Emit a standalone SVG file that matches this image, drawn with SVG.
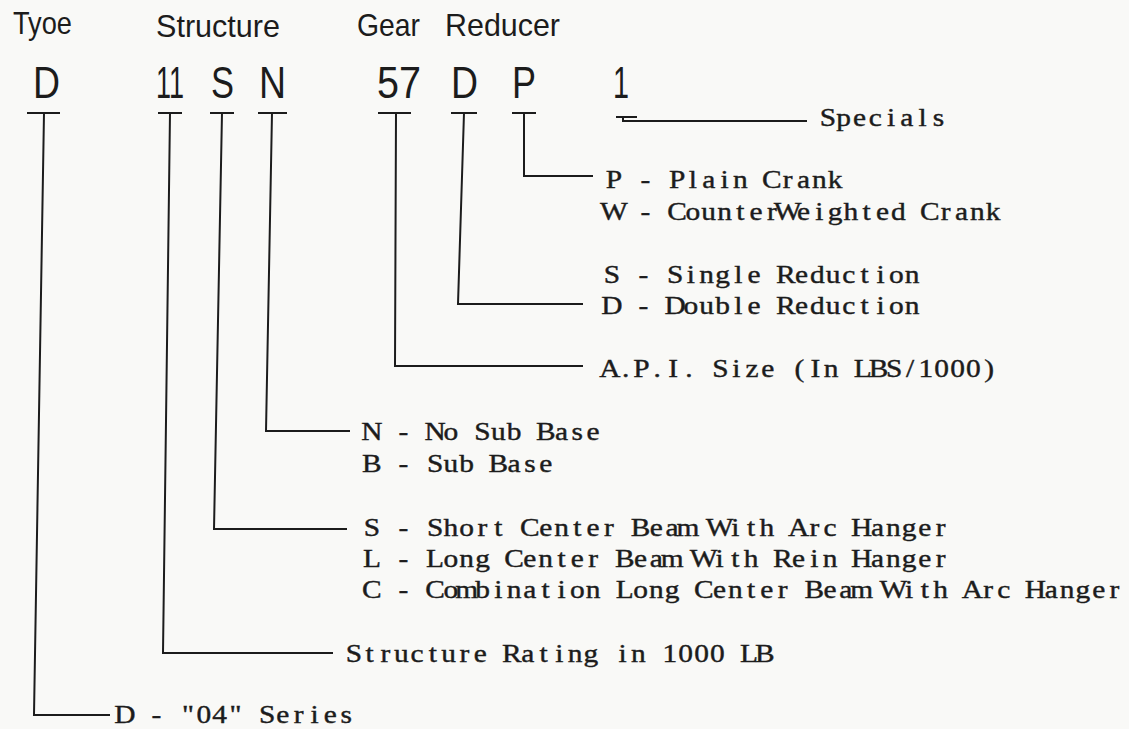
<svg xmlns="http://www.w3.org/2000/svg" width="1129" height="729" viewBox="0 0 1129 729">
<style>
.hd{font-family:"Liberation Sans",Arial,sans-serif;font-size:32px;fill:#1c1c1c}
.big{font-family:"Liberation Sans",Arial,sans-serif;font-size:44px;fill:#1c1c1c}
.lb{font-family:"Liberation Serif","Times New Roman",serif;font-size:24.5px;fill:#1c1c1c;stroke:#1c1c1c;stroke-width:0.4;text-anchor:middle}
.bar{stroke:#1c1c1c;stroke-width:2;fill:none}
.cn{stroke:#1c1c1c;stroke-width:2;fill:none;stroke-linejoin:miter}
</style>
<rect width="1129" height="729" fill="#f9f9f7"/>
<g id="headings">
<text class="hd" x="13" y="34" textLength="59" lengthAdjust="spacingAndGlyphs">Tyoe</text>
<text class="hd" x="156" y="37" textLength="124" lengthAdjust="spacingAndGlyphs">Structure</text>
<text class="hd" x="357" y="36" textLength="63" lengthAdjust="spacingAndGlyphs">Gear</text>
<text class="hd" x="445" y="36" textLength="115" lengthAdjust="spacingAndGlyphs">Reducer</text>
</g>
<g id="node-type-D">
<text class="big" x="33" y="98" textLength="27" lengthAdjust="spacingAndGlyphs">D</text>
<line class="bar" x1="27" y1="113" x2="60" y2="113"/>
</g>
<g id="node-11">
<text class="big" x="156" y="98" textLength="28" lengthAdjust="spacingAndGlyphs">11</text>
<line class="bar" x1="158" y1="113" x2="182" y2="113"/>
</g>
<g id="node-S">
<text class="big" x="211" y="98" textLength="23" lengthAdjust="spacingAndGlyphs">S</text>
<line class="bar" x1="210" y1="113" x2="234" y2="113"/>
</g>
<g id="node-N">
<text class="big" x="259" y="98" textLength="27" lengthAdjust="spacingAndGlyphs">N</text>
<line class="bar" x1="258" y1="113" x2="287" y2="113"/>
</g>
<g id="node-57">
<text class="big" x="377" y="98" textLength="44" lengthAdjust="spacingAndGlyphs">57</text>
<line class="bar" x1="378" y1="113" x2="411" y2="113"/>
</g>
<g id="node-gear-D">
<text class="big" x="451" y="98" textLength="27" lengthAdjust="spacingAndGlyphs">D</text>
<line class="bar" x1="451" y1="113" x2="477" y2="113"/>
</g>
<g id="node-P">
<text class="big" x="512" y="98" textLength="24" lengthAdjust="spacingAndGlyphs">P</text>
<line class="bar" x1="512" y1="113" x2="536" y2="113"/>
</g>
<g id="node-1">
<text class="big" x="613" y="98" textLength="16" lengthAdjust="spacingAndGlyphs">1</text>
<line class="bar" x1="616" y1="117" x2="637" y2="117"/>
</g>
<g id="connectors">
<polyline class="cn" points="44,113 34,715 110,715"/>
<polyline class="cn" points="170,113 163,653 333,653"/>
<polyline class="cn" points="222,113 214,529 347,529"/>
<polyline class="cn" points="272,113 266,431 350,431"/>
<polyline class="cn" points="396,113 395,366 583,366"/>
<polyline class="cn" points="464,113 458,304 583,304"/>
<polyline class="cn" points="524,113 524,176 593,176"/>
<polyline class="cn" points="623,117 623,121 807,121"/>
</g>
<g id="labels">
<text class="lb" transform="translate(820 126) scale(1.2 1)" y="0" x="6.58 19.75 32.92 46.08 59.25 72.42 85.58 98.75">Specials</text>
<text class="lb" transform="translate(606 188) scale(1.2 1)" y="0" x="6.58 19.75 32.92 46.08 59.25 72.42 85.58 98.75 111.92 125.08 138.25 151.42 164.58 177.75 190.92">P - Plain Crank</text>
<text class="lb" transform="translate(606 220) scale(1.2 1)" y="0" x="6.58 19.75 32.92 46.08 59.25 72.42 85.58 98.75 111.92 125.08 138.25 151.42 164.58 177.75 190.92 204.08 217.25 230.42 243.58 256.75 269.92 283.08 296.25 309.42 322.58">W - CounterWeighted Crank</text>
<text class="lb" transform="translate(604 283) scale(1.2 1)" y="0" x="6.58 19.75 32.92 46.08 59.25 72.42 85.58 98.75 111.92 125.08 138.25 151.42 164.58 177.75 190.92 204.08 217.25 230.42 243.58 256.75">S - Single Reduction</text>
<text class="lb" transform="translate(604 314) scale(1.2 1)" y="0" x="6.58 19.75 32.92 46.08 59.25 72.42 85.58 98.75 111.92 125.08 138.25 151.42 164.58 177.75 190.92 204.08 217.25 230.42 243.58 256.75">D - Double Reduction</text>
<text class="lb" transform="translate(602 377) scale(1.2 1)" y="0" x="6.58 19.75 32.92 46.08 59.25 72.42 85.58 98.75 111.92 125.08 138.25 151.42 164.58 177.75 190.92 204.08 217.25 230.42 243.58 256.75 269.92 283.08 296.25 309.42 322.58">A.P.I. Size (In LBS/1000)</text>
<text class="lb" transform="translate(364 440) scale(1.2 1)" y="0" x="6.58 19.75 32.92 46.08 59.25 72.42 85.58 98.75 111.92 125.08 138.25 151.42 164.58 177.75 190.92">N - No Sub Base</text>
<text class="lb" transform="translate(364 472) scale(1.2 1)" y="0" x="6.58 19.75 32.92 46.08 59.25 72.42 85.58 98.75 111.92 125.08 138.25 151.42">B - Sub Base</text>
<text class="lb" transform="translate(364 536) scale(1.2 1)" y="0" x="6.58 19.75 32.92 46.08 59.25 72.42 85.58 98.75 111.92 125.08 138.25 151.42 164.58 177.75 190.92 204.08 217.25 230.42 243.58 256.75 269.92 283.08 296.25 309.42 322.58 335.75 348.92 362.08 375.25 388.42 401.58 414.75 427.92 441.08 454.25 467.42 480.58">S - Short Center Beam With Arc Hanger</text>
<text class="lb" transform="translate(364 567) scale(1.2 1)" y="0" x="6.58 19.75 32.92 46.08 59.25 72.42 85.58 98.75 111.92 125.08 138.25 151.42 164.58 177.75 190.92 204.08 217.25 230.42 243.58 256.75 269.92 283.08 296.25 309.42 322.58 335.75 348.92 362.08 375.25 388.42 401.58 414.75 427.92 441.08 454.25 467.42 480.58">L - Long Center Beam With Rein Hanger</text>
<text class="lb" transform="translate(364 598) scale(1.2 1)" y="0" x="6.58 19.75 32.92 46.08 59.25 72.42 85.58 98.75 111.92 125.08 138.25 151.42 164.58 177.75 190.92 204.08 217.25 230.42 243.58 256.75 269.92 283.08 296.25 309.42 322.58 335.75 348.92 362.08 375.25 388.42 401.58 414.75 427.92 441.08 454.25 467.42 480.58 493.75 506.92 520.08 533.25 546.42 559.58 572.75 585.92 599.08 612.25 625.42">C - Combination Long Center Beam With Arc Hanger</text>
<text class="lb" transform="translate(346 662) scale(1.2 1)" y="0" x="6.58 19.75 32.92 46.08 59.25 72.42 85.58 98.75 111.92 125.08 138.25 151.42 164.58 177.75 190.92 204.08 217.25 230.42 243.58 256.75 269.92 283.08 296.25 309.42 322.58 335.75 348.92">Structure Rating in 1000 LB</text>
<text class="lb" transform="translate(117 723) scale(1.2 1)" y="0" x="6.58 19.75 32.92 46.08 59.25 72.42 85.58 98.75 111.92 125.08 138.25 151.42 164.58 177.75 190.92">D - "04" Series</text>
</g>
</svg>
